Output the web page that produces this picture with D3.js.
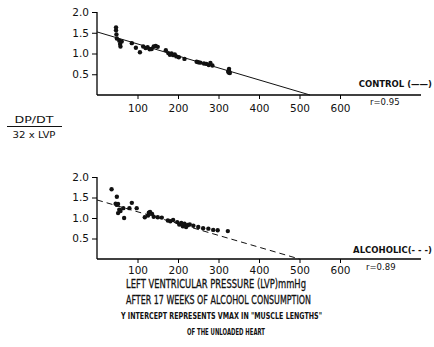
<!DOCTYPE html>
<html lang="en">
<head>
  <meta charset="UTF-8">
  <title>DP/DT vs LVP</title>
  <style>
  body { margin: 0; background: #fff; }
  svg { display: block; }
  text { font-family: "DejaVu Sans", sans-serif; fill: #111; }
  </style>
</head>
<body>
  <svg></svg>
  <script src="https://d3js.org/d3.v7.min.js"></script>
  <script>
  // control group: [LVP mmHg, dp/dt / (32 x LVP)]
  var controlPts = [
    [47, 1.63], [47, 1.56], [48, 1.46], [49, 1.36], [55, 1.31], [57, 1.23], [58, 1.17],
    [61, 1.29], [86, 1.25], [96, 1.14], [106, 1.03], [114, 1.17], [120, 1.13], [125, 1.15],
    [130, 1.10], [135, 1.11], [140, 1.17], [145, 1.18], [150, 1.16], [170, 1.08], [176, 1.01],
    [180, 0.97], [184, 1.00], [188, 0.96], [192, 0.98], [196, 0.93], [202, 0.91], [216, 0.87],
    [246, 0.80], [250, 0.79], [255, 0.78], [264, 0.76], [270, 0.75], [276, 0.72], [280, 0.77],
    [285, 0.71], [326, 0.63], [326, 0.58], [325, 0.54], [328, 0.53], [324, 0.57]
  ];
  // alcoholic group
  var alcoholPts = [
    [36, 1.70], [49, 1.52], [46, 1.35], [49, 1.32], [52, 1.34], [55, 1.20], [58, 1.17],
    [52, 1.12], [67, 1.00], [65, 1.24], [86, 1.37], [80, 1.24], [98, 1.24], [118, 1.02],
    [126, 1.06], [128, 1.13], [131, 1.15], [136, 1.10], [140, 1.03], [150, 1.02], [160, 1.01],
    [175, 0.94], [181, 0.92], [188, 0.95], [198, 0.90], [203, 0.84], [208, 0.88], [212, 0.80],
    [216, 0.86], [220, 0.78], [224, 0.83], [229, 0.84], [238, 0.81], [250, 0.78], [262, 0.75],
    [275, 0.74], [287, 0.71], [298, 0.70], [323, 0.68]
  ];
  var controlFit = [[0, 1.52], [526, 0]];
  var alcoholFit = [[0, 1.44], [500, 0]];
  var xTicks = [100, 200, 300, 400, 500, 600];
  var yTicks = [0.5, 1.0, 1.5, 2.0];
  var axisTitle = [
    "LEFT VENTRICULAR PRESSURE (LVP)mmHg",
    "AFTER 17 WEEKS OF ALCOHOL CONSUMPTION",
    "Y INTERCEPT REPRESENTS VMAX IN \"MUSCLE LENGTHS\"",
    "OF THE UNLOADED HEART"
  ];

  var width = 434, height = 347;
  var svg = d3.select("svg").attr("width", width).attr("height", height);

  var xScale = d3.scaleLinear().domain([0, 800]).range([97, 421]);
  var cond = "DejaVu Sans Condensed, sans-serif";

  function panel(top, bottom, pts, fit, dash, label, rtext, labY, tickY) {
    var yScale = d3.scaleLinear().domain([0, 2]).range([bottom, top]);
    var g = svg.append("g");

    // y axis
    var ya = g.append("g").attr("transform", "translate(97,0)")
      .call(d3.axisLeft(yScale).tickValues(yTicks).tickFormat(d3.format(".1f")).tickSize(5).tickPadding(3));
    ya.select(".domain").attr("d", "M0," + yScale(2) + "V" + bottom).attr("stroke-width", 1.3);
    ya.selectAll("text").style("font-size", "10.5px").attr("font-family", cond);

    // x axis
    var xa = g.append("g").attr("transform", "translate(0," + bottom + ")")
      .call(d3.axisBottom(xScale).tickValues(xTicks).tickSize(4).tickPadding(tickY));
    xa.select(".domain").attr("d", "M97,0H421").attr("stroke-width", 1.3);
    xa.selectAll("text").style("font-size", "10.5px").attr("font-family", cond);

    // fit line
    g.append("path")
      .attr("d", d3.line().x(d => xScale(d[0])).y(d => yScale(d[1]))(fit))
      .attr("fill", "none").attr("stroke", "#111").attr("stroke-width", 1)
      .attr("stroke-dasharray", dash);

    // points
    g.selectAll("circle").data(pts).enter().append("circle")
      .attr("cx", d => xScale(d[0])).attr("cy", d => yScale(d[1]))
      .attr("r", 2.2).attr("fill", "#111");

    g.append("text").attr("x", 432).attr("y", labY).attr("text-anchor", "end")
      .style("font-size", "8.5px").style("font-weight", "bold")
      .attr("font-family", cond).text(label);
    g.append("text").attr("x", rtext[0]).attr("y", rtext[1])
      .style("font-size", "8.5px").attr("font-family", cond).text(rtext[2]);
  }

  panel(12, 95, controlPts, controlFit, null, "CONTROL (\u2014\u2014)", [370, 105, "r=0.95"], 87, 6);
  panel(177, 259, alcoholPts, alcoholFit, "6,4", "ALCOHOLIC(- - -)", [366, 270, "r=0.89"], 253, 4);

  // y axis title as a fraction
  svg.append("text").attr("x", 34).attr("y", 123).attr("text-anchor", "middle")
    .attr("textLength", 39).attr("lengthAdjust", "spacingAndGlyphs")
    .style("font-size", "9.5px").text("DP/DT");
  svg.append("line").attr("x1", 7).attr("x2", 62).attr("y1", 126.5).attr("y2", 126.5)
    .attr("stroke", "#111").attr("stroke-width", 1);
  svg.append("text").attr("x", 34).attr("y", 137.5).attr("text-anchor", "middle")
    .attr("textLength", 43).attr("lengthAdjust", "spacingAndGlyphs")
    .style("font-size", "9.5px").text("32 x LVP");

  // bottom caption
  var cap = [
    { x: 126, y: 288, w: 180, fs: 11.5, fw: "normal" },
    { x: 126, y: 304, w: 185, fs: 11.5, fw: "normal" },
    { x: 121, y: 319, w: 201, fs: 9, fw: "bold" },
    { x: 187, y: 335, w: 78, fs: 9, fw: "bold" }
  ];
  svg.selectAll(".cap").data(axisTitle).enter().append("text")
    .attr("class", "cap")
    .attr("x", (d, i) => cap[i].x).attr("y", (d, i) => cap[i].y)
    .attr("textLength", (d, i) => cap[i].w).attr("lengthAdjust", "spacingAndGlyphs")
    .style("font-size", (d, i) => cap[i].fs + "px")
    .style("font-weight", (d, i) => cap[i].fw)
    .attr("stroke", "#111").attr("stroke-width", (d, i) => cap[i].fw === "bold" ? 0 : 0.3)
    .text(d => d);
  </script>
</body>
</html>
